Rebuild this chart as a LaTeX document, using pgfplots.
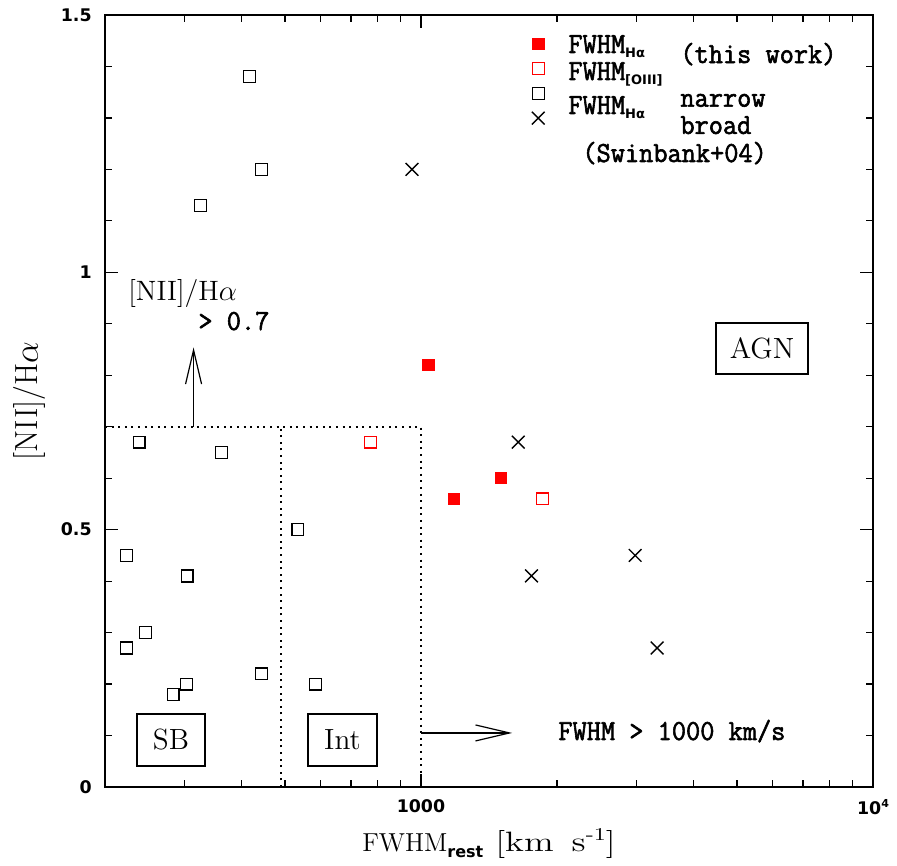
\documentclass[border=0pt]{standalone}
\usepackage{fontspec}
\usepackage{pgfplots}
\pgfplotsset{compat=1.18}
\usetikzlibrary{arrows.meta}
\newfontfamily\tickfont{DejaVu Sans}
\newfontfamily\lmono{Latin Modern Mono}[FakeBold=2, FakeStretch=0.95]
\newfontfamily\lmwide{Latin Modern Roman}[FakeStretch=1.3]
\newcommand{\tk}{\tickfont\bfseries\fontsize{8.7}{10}\selectfont}
\newcommand{\sbf}[1]{{\tickfont\bfseries\fontsize{6.5}{7}\selectfont #1}}
\newcommand{\lsub}[1]{\raisebox{-2.3pt}{\sbf{#1}}}
\newcommand{\mfont}{\lmono\fontsize{14.5}{16}\selectfont}
\begin{document}
\begin{tikzpicture}
\begin{axis}[
  scale only axis, width=384pt, height=386pt,
  xmode=log, xmin=200, xmax=10000, ymin=0, ymax=1.5,
  axis line style={line width=1.2pt},
  tick style={line width=0.6pt, black},
  tick align=inside,
  major tick length=6.5pt, minor tick length=3.5pt,
  xtick={1000,10000}, xticklabels={1000,{10\raisebox{3.5pt}{\fontsize{5.5}{6}\selectfont 4}}},
  minor xtick={300,400,500,600,700,800,900,2000,3000,4000,5000,6000,7000,8000,9000},
  ytick={0,0.5,1,1.5}, yticklabels={0,0.5,1,1.5},
  minor ytick={0.1,0.2,0.3,0.4,0.6,0.7,0.8,0.9,1.1,1.2,1.3,1.4},
  xticklabel style={font=\tk, anchor=north, inner sep=0pt, yshift=-6pt},
  yticklabel style={font=\tk, anchor=east, inner sep=0pt, xshift=-6.5pt},
  xlabel={{\fontsize{13}{15}\selectfont FWHM}\raisebox{-3pt}{{\tickfont\bfseries\fontsize{8}{9}\selectfont rest}}\hspace{6pt}{\lmwide\fontsize{14}{16}\selectfont [km\hspace{9pt}s\raisebox{5.5pt}{\fontsize{9}{10}\selectfont -1}]}},
  ylabel={[NII]/H$\alpha$},
  every axis x label/.style={at={(axis description cs:0.5,-0.0842)}, anchor=base, inner sep=0pt},
  every axis y label/.style={at={(axis description cs:-0.0977,0.5)}, rotate=90, anchor=center, font=\fontsize{16}{18}\selectfont},
  legend image code/.code={\draw[#1] plot coordinates {(0pt,0pt)};},
  legend style={at={(rel axis cs:0.5559,0.9784)}, anchor=north west, draw=none, fill=none,
    inner sep=0pt, outer sep=0pt, nodes={inner sep=0pt, text height=6.2pt, text depth=6.15pt}},
]
% region boundaries
\addplot[line width=1pt, dash pattern=on 1pt off 2.3pt, forget plot] coordinates {(200,0.7) (1000,0.7) (1000,0)};
\addplot[line width=1pt, dash pattern=on 1pt off 2.3pt, forget plot] coordinates {(490,0) (490,0.7)};
% arrows
\addplot[line width=0.6pt, -{Straight Barb[length=17pt, width=8pt]}, forget plot] coordinates {(314,0.7) (314,0.854)};
\addplot[line width=0.6pt, -{Straight Barb[length=17pt, width=8pt]}, forget plot] coordinates {(1000,0.105) (1591,0.105)};
% data
\addplot[only marks, mark=square*, mark size=2.8pt, red, mark options={line width=0.3pt}]
  coordinates {(1038,0.82) (1502,0.60) (1184,0.56)};
\addplot[only marks, mark=square, mark size=2.95pt, red, mark options={line width=0.65pt}]
  coordinates {(774,0.67) (1858,0.56)};
\addplot[only marks, mark=square, mark size=2.95pt, black, mark options={line width=0.65pt}]
  coordinates {(418,1.38) (444,1.20) (325,1.13) (238,0.67) (362,0.65) (223,0.45) (304,0.41)
   (246,0.30) (223,0.27) (283,0.18) (303,0.20) (444,0.22) (534,0.50) (584,0.20)};
\addplot[only marks, mark=x, mark size=4.5pt, black, mark options={line width=0.7pt}]
  coordinates {(955,1.20) (1641,0.67) (1756,0.41) (2977,0.45) (3331,0.27)};
\legend{\mbox{},\mbox{},\mbox{},\mbox{}}
% legend texts
\node[anchor=base west, inner sep=0pt, font=\mfont] at (rel axis cs:0.6029,0.9508) {FWHM\lsub{Hα}};
\node[anchor=base west, inner sep=0pt, font=\mfont] at (rel axis cs:0.6029,0.9158) {FWHM\lsub{[OIII]}};
\node[anchor=base west, inner sep=0pt, font=\mfont] at (rel axis cs:0.6029,0.8718) {FWHM\lsub{Hα}};
\node[anchor=base west, inner sep=0pt, font=\mfont] at (rel axis cs:0.7487,0.9378) {(this work)};
\node[anchor=base west, inner sep=0pt, font=\mfont] at (rel axis cs:0.7487,0.8812) {narrow};
\node[anchor=base west, inner sep=0pt, font=\mfont] at (rel axis cs:0.7487,0.8459) {broad};
\node[anchor=base west, inner sep=0pt, font=\mfont] at (rel axis cs:0.6211,0.8096) {(Swinbank+04)};
% annotations
\node[anchor=base west, inner sep=0pt, font=\fontsize{14}{16}\selectfont] at (rel axis cs:0.0299,0.6308) {[NII]/H$\alpha$};
\node[anchor=base west, inner sep=0pt, font=\mfont] at (rel axis cs:0.1211,0.592) {> 0.7};
\node[anchor=base west, inner sep=0pt, font=\mfont] at (rel axis cs:0.5898,0.0609) {FWHM > 1000 km/s};
\node[draw, line width=0.6pt, minimum width=34pt, minimum height=26pt, inner sep=0pt, font=\fontsize{14.6}{16}\selectfont] at (rel axis cs:0.0859,0.0609) {SB};
\node[draw, line width=0.6pt, minimum width=34.5pt, minimum height=26pt, inner sep=0pt, font=\fontsize{14.6}{16}\selectfont] at (rel axis cs:0.3092,0.0609) {Int};
\node[draw, line width=0.6pt, minimum width=46pt, minimum height=25.5pt, inner sep=0pt, font=\fontsize{14.6}{16}\selectfont] at (rel axis cs:0.8555,0.568) {AGN};
\coordinate (ll) at (rel axis cs:0,0);
\coordinate (ur) at (rel axis cs:1,1);
\end{axis}
\pgfresetboundingbox
\path[use as bounding box] ([shift={(-52.5pt,-39.5pt)}]ll) rectangle ([shift={(12pt,7.5pt)}]ur);
\end{tikzpicture}
\end{document}
